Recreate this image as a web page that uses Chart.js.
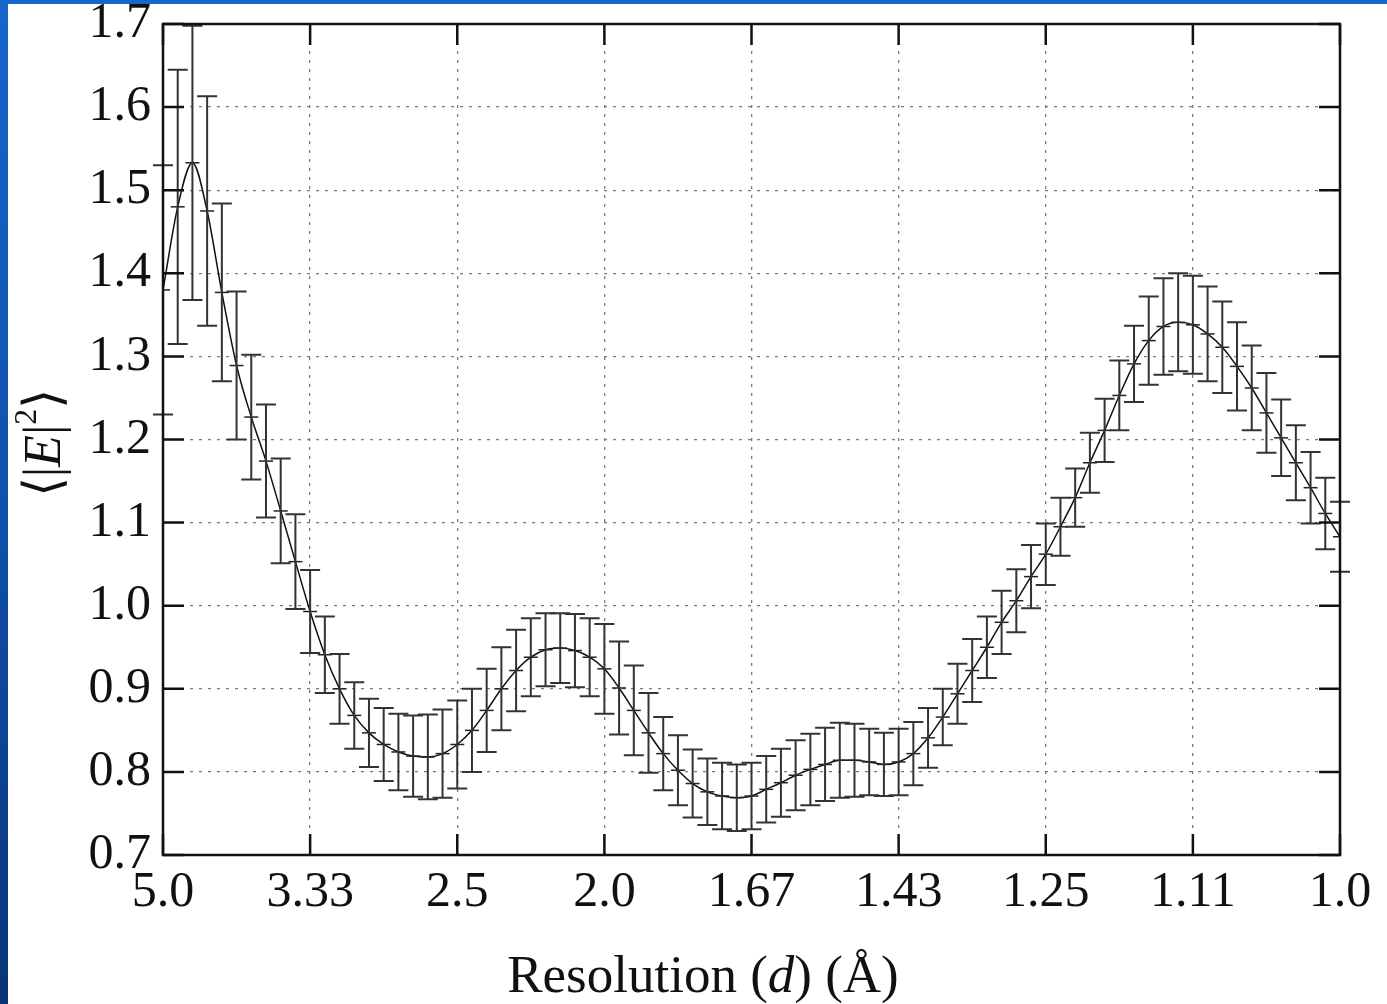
<!DOCTYPE html>
<html lang="en">
<head>
	<meta charset="UTF-8">
	<title>Mean |E|^2 vs resolution</title>
	<script src="https://cdn.jsdelivr.net/npm/chart.js"></script>
	<style>
		html, body { margin: 0; padding: 0; }
		body {
			width: 1387px; height: 1004px; overflow: hidden;
			background: linear-gradient(180deg, #1666cc 0%, #0f4fa8 55%, #0a3478 100%);
			position: relative;
		}
		#panel { position: absolute; left: 8px; top: 4px; width: 1379px; height: 1000px; background: #fff; }
		canvas { display: block; }
	</style>
</head>
<body>
	<div id="panel">
		<canvas id="chart" width="1379" height="1000"></canvas>
	</div>
	<script>
		// x is 1/d (1/Å), ticks are labelled with d
		const invRes = [0.20, 0.21, 0.22, 0.23, 0.24, 0.25, 0.26, 0.27, 0.28, 0.29,
			0.30, 0.31, 0.32, 0.33, 0.34, 0.35, 0.36, 0.37, 0.38, 0.39,
			0.40, 0.41, 0.42, 0.43, 0.44, 0.45, 0.46, 0.47, 0.48, 0.49,
			0.50, 0.51, 0.52, 0.53, 0.54, 0.55, 0.56, 0.57, 0.58, 0.59,
			0.60, 0.61, 0.62, 0.63, 0.64, 0.65, 0.66, 0.67, 0.68, 0.69,
			0.70, 0.71, 0.72, 0.73, 0.74, 0.75, 0.76, 0.77, 0.78, 0.79,
			0.80, 0.81, 0.82, 0.83, 0.84, 0.85, 0.86, 0.87, 0.88, 0.89,
			0.90, 0.91, 0.92, 0.93, 0.94, 0.95, 0.96, 0.97, 0.98, 0.99, 1.00];

		const meanE2 = [1.380, 1.480, 1.533, 1.475, 1.377, 1.289, 1.227, 1.174, 1.114, 1.053,
			0.993, 0.941, 0.900, 0.868, 0.847, 0.833, 0.824, 0.819, 0.818, 0.822,
			0.833, 0.850, 0.874, 0.900, 0.922, 0.938, 0.947, 0.949, 0.946, 0.938,
			0.924, 0.901, 0.874, 0.847, 0.822, 0.802, 0.786, 0.776, 0.771, 0.769,
			0.771, 0.779, 0.787, 0.796, 0.803, 0.809, 0.814, 0.814, 0.812, 0.809,
			0.812, 0.822, 0.841, 0.866, 0.894, 0.922, 0.950, 0.980, 1.006, 1.035,
			1.062, 1.095, 1.130, 1.172, 1.211, 1.253, 1.291, 1.319, 1.336, 1.341,
			1.338, 1.327, 1.311, 1.288, 1.262, 1.232, 1.202, 1.172, 1.142, 1.111, 1.083];

		const errE2 = [0.150, 0.165, 0.165, 0.138, 0.107, 0.089, 0.075, 0.068, 0.063, 0.057,
			0.050, 0.046, 0.042, 0.040, 0.041, 0.044, 0.046, 0.049, 0.051, 0.053,
			0.053, 0.050, 0.050, 0.050, 0.049, 0.047, 0.044, 0.042, 0.044, 0.047,
			0.054, 0.056, 0.054, 0.048, 0.044, 0.042, 0.041, 0.040, 0.040, 0.040,
			0.040, 0.040, 0.041, 0.042, 0.043, 0.044, 0.045, 0.044, 0.040, 0.038,
			0.040, 0.038, 0.036, 0.034, 0.036, 0.038, 0.037, 0.038, 0.038, 0.038,
			0.037, 0.035, 0.035, 0.036, 0.038, 0.042, 0.046, 0.053, 0.058, 0.059,
			0.059, 0.057, 0.055, 0.053, 0.051, 0.048, 0.046, 0.045, 0.043, 0.043, 0.042];

		const resLabels = ['5.0', '3.33', '2.5', '2.0', '1.67', '1.43', '1.25', '1.11', '1.0'];

		const serif = '"Liberation Serif", "Times New Roman", serif';

		const errorBars = {
			id: 'errorBars',
			afterDatasetsDraw(chart) {
				const ctx = chart.ctx, x = chart.scales.x, y = chart.scales.y;
				ctx.save();
				ctx.strokeStyle = '#333';
				ctx.lineWidth = 2;
				for (let i = 0; i < invRes.length; i++) {
					const px = x.getPixelForValue(invRes[i]);
					const top = y.getPixelForValue(meanE2[i] + errE2[i]);
					const bot = y.getPixelForValue(meanE2[i] - errE2[i]);
					ctx.beginPath();
					ctx.moveTo(px, top); ctx.lineTo(px, bot);
					ctx.moveTo(px - 10, top); ctx.lineTo(px + 10, top);
					ctx.moveTo(px - 10, bot); ctx.lineTo(px + 10, bot);
					ctx.stroke();
				}
				ctx.restore();
			}
		};

		// closed box with inward ticks on all four sides, plus the axis titles
		const frame = {
			id: 'frame',
			afterDraw(chart) {
				const ctx = chart.ctx, a = chart.chartArea;
				const x = chart.scales.x, y = chart.scales.y;
				ctx.save();
				ctx.strokeStyle = '#111';
				ctx.lineWidth = 2.5;
				ctx.strokeRect(a.left, a.top, a.right - a.left, a.bottom - a.top);
				ctx.beginPath();
				x.ticks.forEach(t => {
					const px = x.getPixelForValue(t.value);
					ctx.moveTo(px, a.top); ctx.lineTo(px, a.top + 21);
					ctx.moveTo(px, a.bottom); ctx.lineTo(px, a.bottom - 21);
				});
				y.ticks.forEach(t => {
					const py = y.getPixelForValue(t.value);
					ctx.moveTo(a.left, py); ctx.lineTo(a.left + 21, py);
					ctx.moveTo(a.right, py); ctx.lineTo(a.right - 21, py);
				});
				ctx.stroke();

				// x title: Resolution (d) (Å), d in italics
				ctx.fillStyle = '#111';
				ctx.textBaseline = 'alphabetic';
				const parts = [['Resolution (', ''], ['d', 'italic '], [') (Å)', '']];
				let w = 0;
				parts.forEach(p => { ctx.font = p[1] + '53px ' + serif; w += ctx.measureText(p[0]).width; });
				let cx = 695 - w / 2;
				parts.forEach(p => {
					ctx.font = p[1] + '53px ' + serif;
					ctx.fillText(p[0], cx, 988);
					cx += ctx.measureText(p[0]).width;
				});

				// y title: <|E|^2>, rotated
				ctx.translate(36, 439);
				ctx.rotate(-Math.PI / 2);
				const yparts = [['⟨|', '', 52, 0], ['E', 'italic ', 52, 0], ['|', '', 52, 0], ['2', '', 32, -18], ['⟩', '', 52, 0]];
				let yw = 0;
				yparts.forEach(p => { ctx.font = p[1] + p[2] + 'px ' + serif; yw += ctx.measureText(p[0]).width; });
				let sx = -yw / 2;
				ctx.textBaseline = 'middle';
				yparts.forEach(p => {
					ctx.font = p[1] + p[2] + 'px ' + serif;
					ctx.fillText(p[0], sx, p[3] + 2);
					sx += ctx.measureText(p[0]).width;
				});
				ctx.restore();
			}
		};

		const ctx = document.getElementById('chart');
		const chart = new Chart(ctx, {
			type: 'line',
			data: {
				datasets: [{
					data: invRes.map((v, i) => ({ x: v, y: meanE2[i] })),
					borderColor: '#111',
					borderWidth: 1.5,
					cubicInterpolationMode: 'monotone',
					pointStyle: 'line',
					pointRadius: 7,
					pointBorderWidth: 1.5,
					pointBorderColor: '#222',
					fill: false
				}]
			},
			options: {
				responsive: false,
				animation: false,
				devicePixelRatio: 1,
				layout: { padding: { left: 0, top: 20, right: 47, bottom: 0 } },
				plugins: { legend: { display: false }, tooltip: { enabled: false } },
				scales: {
					x: {
						type: 'linear',
						min: 0.2, max: 1.0,
						afterFit: s => { s.height = 149; },
						grid: { color: '#7a7a7a', lineWidth: 1.3, drawTicks: false },
						border: { display: false, dash: [3, 6] },
						ticks: {
							stepSize: 0.1,
							padding: 8,
							color: '#111',
							font: { family: serif, size: 50 },
							callback: v => resLabels[Math.round((v - 0.2) * 10)]
						}
					},
					y: {
						min: 0.7, max: 1.7,
						afterFit: s => { s.width = 155; s.paddingTop = 0; s.paddingBottom = 0; },
						grid: { color: '#7a7a7a', lineWidth: 1.3, drawTicks: false },
						border: { display: false, dash: [3, 6] },
						ticks: {
							stepSize: 0.1,
							padding: 12,
							color: '#111',
							font: { family: serif, size: 50 },
							callback: v => v.toFixed(1)
						}
					}
				}
			},
			plugins: [errorBars, frame]
		});
	</script>
</body>
</html>
